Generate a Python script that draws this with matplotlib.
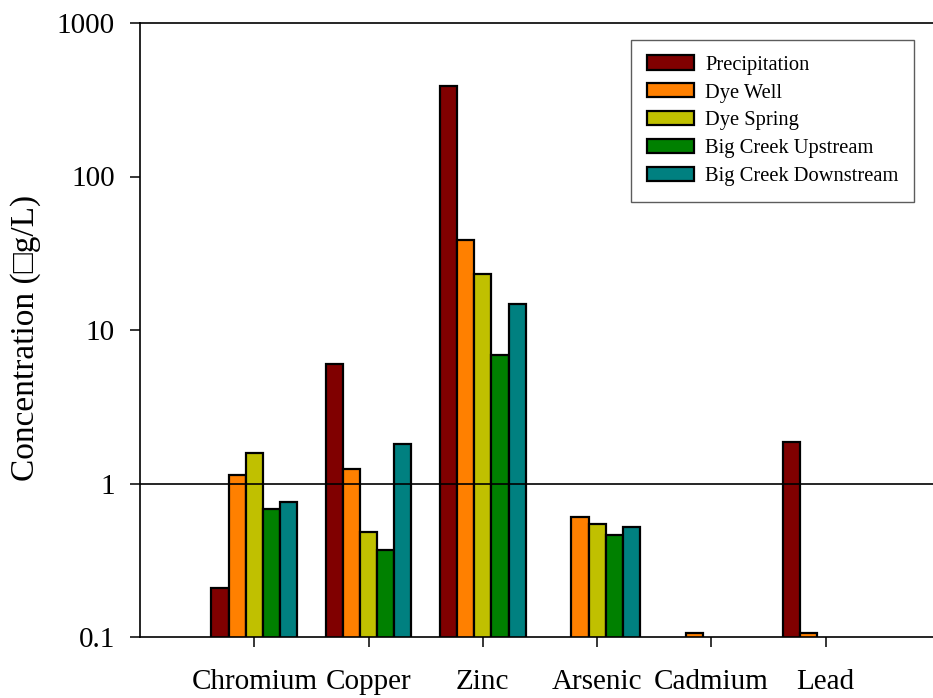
import numpy as np
import matplotlib
matplotlib.use("Agg")
import matplotlib.pyplot as plt

plt.rcParams['font.family'] = ['Liberation Serif', 'DejaVu Serif']

metals = ["Chromium", "Copper", "Zinc", "Arsenic", "Cadmium", "Lead"]
series = ["Precipitation", "Dye Well", "Dye Spring", "Big Creek Upstream", "Big Creek Downstream"]
colors = ["#800000", "#ff8000", "#c0c000", "#008000", "#008080"]

nan = np.nan
precipitation = [0.207, 6.0, 389.0, nan, nan, 1.87]
dye_well      = [1.13, 1.24, 38.5, 0.606, 0.106, 0.106]
dye_spring    = [1.57, 0.484, 23.3, 0.545, nan, nan]
bc_upstream   = [0.68, 0.367, 6.86, 0.46, nan, nan]
bc_downstream = [0.759, 1.80, 14.8, 0.521, nan, nan]
values = [precipitation, dye_well, dye_spring, bc_upstream, bc_downstream]

W, H = 933, 698
fig = plt.figure(figsize=(W / 100, H / 100), dpi=100)
ax = fig.add_axes([140 / W, (H - 637) / H, 800 / W, (637 - 23) / H])

x = np.arange(len(metals))
bw = 0.15
for i, (name, vals, c) in enumerate(zip(series, values, colors)):
    v = np.array(vals, dtype=float)
    ok = ~np.isnan(v)
    ax.bar(x[ok] + (i - 2) * bw, v[ok], width=bw, color=c, edgecolor="black",
           linewidth=1.6, label=name, zorder=2)

ax.set_yscale("log")
ax.set_ylim(0.1, 1000)
ax.set_xlim(-1, 6)
ax.axhline(1, color="black", lw=1.2, zorder=3)

ax.set_yticks([0.1, 1, 10, 100, 1000])
ax.set_yticklabels(["0.1", "1", "10", "100", "1000"])
ax.yaxis.set_minor_locator(matplotlib.ticker.NullLocator())
ax.set_xticks(x)
ax.set_xticklabels(metals)
ax.tick_params(axis="y", direction="out", length=7, width=1.1, pad=11, labelsize=21)
ax.tick_params(axis="x", direction="out", length=7, width=1.1, pad=16, labelsize=21)

for s in ["left", "top", "bottom"]:
    ax.spines[s].set_linewidth(1.2)
ax.spines["right"].set_visible(False)

fig.text(26 / W, 1 - 338 / H, "Concentration (\u25a1g/L)", rotation=90,
         ha="center", va="center", fontsize=24)

leg = ax.legend(loc="upper right", bbox_to_anchor=(914 / W, 1 - 40 / H),
                bbox_transform=fig.transFigure, fontsize=14.8, frameon=True,
                fancybox=False, edgecolor="#333333", borderaxespad=0,
                handlelength=2.3, handleheight=0.68, labelspacing=0.42,
                handletextpad=0.55, borderpad=0.75)
leg.get_frame().set_linewidth(1.0)

fig.savefig("out.png", dpi=100)
